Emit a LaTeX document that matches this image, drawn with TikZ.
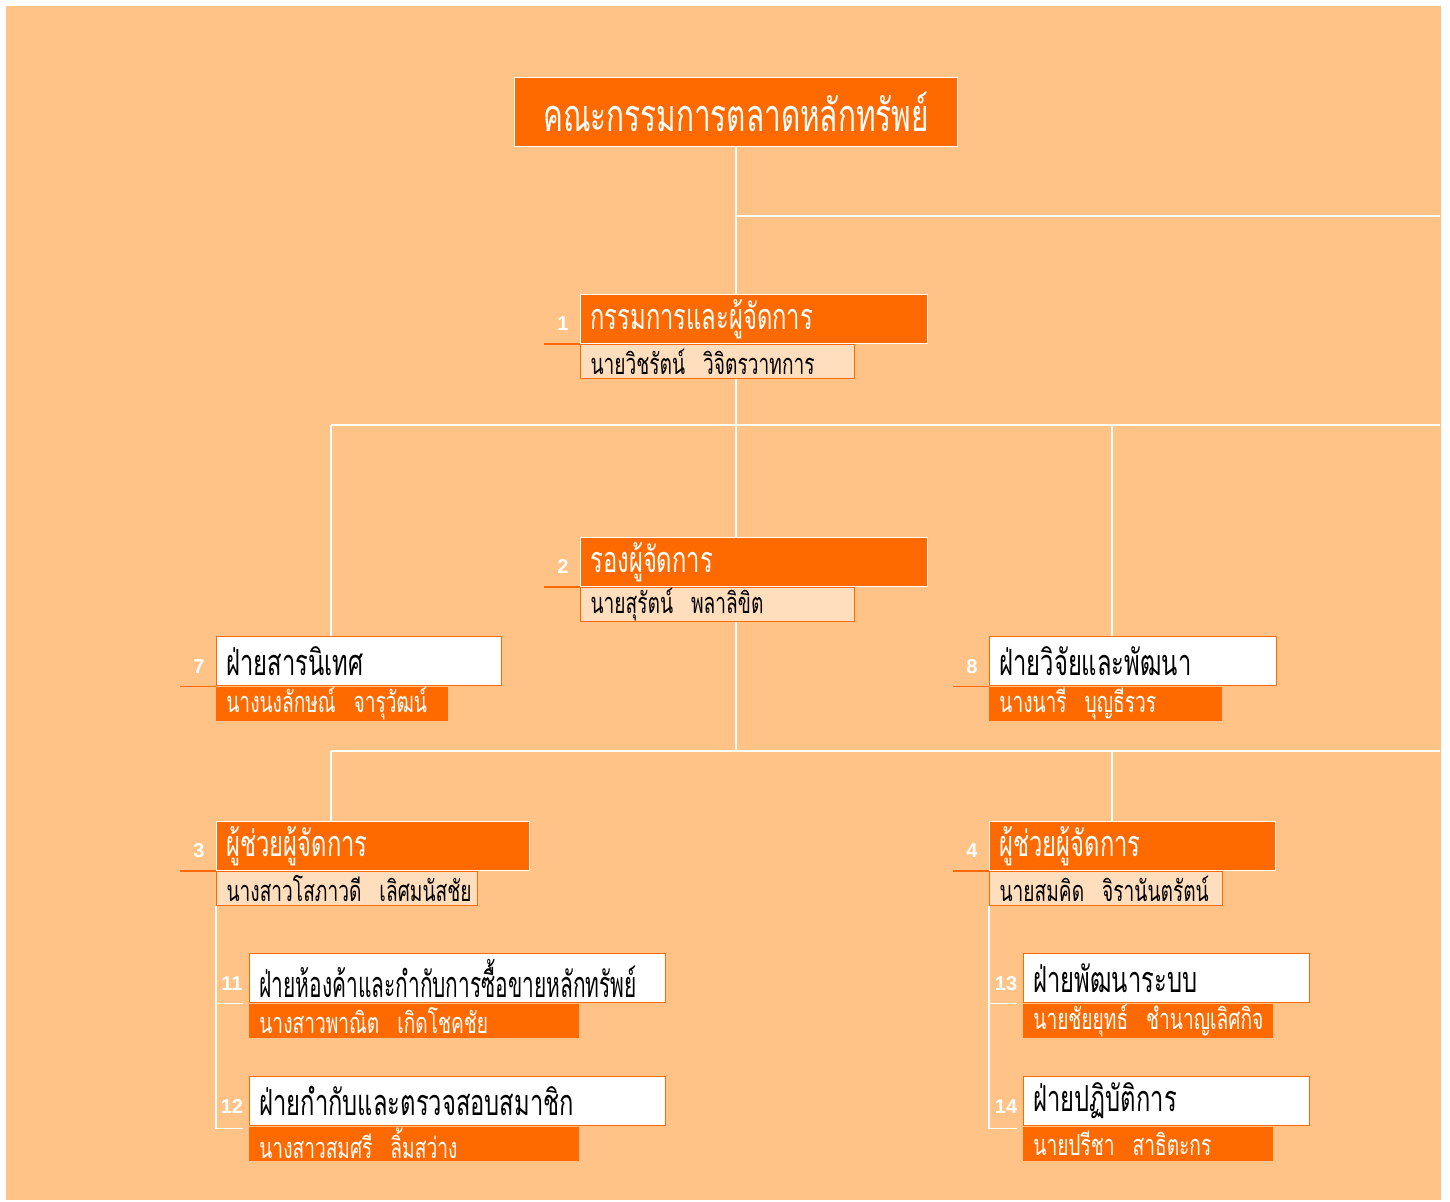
\documentclass[tikz,border=0pt]{standalone}
\usepackage{fontspec}
\setmainfont{Liberation Sans}
\newfontfamily\thaifont[Script=Thai,FakeStretch=0.66]{Loma}
\usetikzlibrary{calc}
\definecolor{peach}{HTML}{FFC387}
\definecolor{deeporange}{HTML}{FF6A00}
\definecolor{cream}{HTML}{FFDEBD}
\newcommand\namegap{\hspace{9pt}}
\pgfdeclarelayer{back}
\pgfdeclarelayer{wires}
\pgfsetlayers{back,wires,main}
\tikzset{
	box/.style={anchor=north west,inner xsep=5pt,inner ysep=0pt,align=left},
	headbox/.style={box,minimum height=24.5pt,fill=deeporange,draw=white,line width=0.5pt,text=white,font=\thaifont\fontsize{18}{20}\selectfont},
	plainbox/.style={box,minimum height=24.5pt,fill=white,draw=deeporange,line width=0.6pt,text=black,font=\thaifont\fontsize{18}{20}\selectfont},
	namebox/.style={box,minimum height=17pt,fill=cream,draw=deeporange,line width=0.6pt,text=black,font=\thaifont\fontsize{14.5}{16}\selectfont},
	staffbox/.style={box,minimum height=17pt,fill=deeporange,text=white,font=\thaifont\fontsize{14.5}{16}\selectfont},
	num/.style={text=white,font=\fontsize{10}{12}\selectfont\bfseries,inner sep=0pt},
	tick/.style={deeporange,line width=0.7pt},
	wire/.style={white,line width=0.6pt}
}
\begin{document}
\begin{tikzpicture}[x=0.5pt,y=-0.5pt]
	\useasboundingbox (0,0) rectangle (1450,1201);
	\begin{pgfonlayer}{back}
		\fill[white] (0,0) rectangle (1450,1201);
		\fill[peach] (6,6) rectangle (1441,1200);
	\end{pgfonlayer}
	\node (board) [headbox,text width=211.5pt,minimum height=34.5pt,align=center,font=\thaifont\fontsize{22.5}{25}\selectfont] at (514,77) {\mbox{คณะกรรมการตลาดหลักทรัพย์}};
	\foreach \n/\x/\y/\wa/\wb/\head/\who in {
		1/580/294/347/274/กรรมการและผู้จัดการ/นายวิชรัตน์\namegap วิจิตรวาทการ,
		2/580/537/347/274/รองผู้จัดการ/นายสุรัตน์\namegap พลาลิขิต,
		3/216/821/313/261/ผู้ช่วยผู้จัดการ/นางสาวโสภาวดี\namegap เลิศมนัสชัย,
		4/989/821/286/233/ผู้ช่วยผู้จัดการ/นายสมคิด\namegap จิรานันตรัตน์} {
		\pgfmathsetmacro\ta{\wa/2-10}
		\pgfmathsetmacro\tb{\wb/2-10}
		\node (t\n) [headbox,text width=\ta pt] at (\x,\y) {\mbox{\head}};
		\node (s\n) [namebox,text width=\tb pt] at (t\n.south west) {\mbox{\who}};
		\node (n\n) [num] at ($(t\n.south west)+(-17,-20)$) {\n};
	}
	\foreach \n/\x/\y/\wa/\wb/\head/\who in {
		7/216/636/285/232/ฝ่ายสารนิเทศ/นางนงลักษณ์\namegap จารุวัฒน์,
		8/989/636/287/233/ฝ่ายวิจัยและพัฒนา/นางนารี\namegap บุญธีรวร,
		11/249/953/416/330/{\scalebox{0.88}[1]{ฝ่ายห้องค้าและกำกับการซื้อขายหลักทรัพย์}}/นางสาวพาณิต\namegap เกิดโชคชัย,
		12/249/1076/416/330/ฝ่ายกำกับและตรวจสอบสมาชิก/นางสาวสมศรี\namegap ลิ้มสว่าง,
		13/1023/953/286/250/ฝ่ายพัฒนาระบบ/นายชัยยุทธ์\namegap ชำนาญเลิศกิจ,
		14/1023/1076/286/250/ฝ่ายปฏิบัติการ/นายปรีชา\namegap สาธิตะกร} {
		\pgfmathsetmacro\ta{\wa/2-10}
		\pgfmathsetmacro\tb{\wb/2-10}
		\node (t\n) [plainbox,text width=\ta pt] at (\x,\y) {\mbox{\head}};
		\node (s\n) [staffbox,text width=\tb pt] at (t\n.south west) {\mbox{\who}};
		\node (n\n) [num] at ($(t\n.south west)+(-17,-20)$) {\n};
	}
	\foreach \n in {1,2,3,4,7,8}
		\draw[tick] (t\n.south west) -- ++(-36,0);
	\coordinate (ra) at (1440,216);
	\coordinate (la) at (331,425);
	\coordinate (rb) at (1440,425);
	\coordinate (lc) at (331,751);
	\coordinate (rc) at (1440,751);
	\coordinate (xr) at (1112,0);
	\begin{pgfonlayer}{wires}
		\draw[wire] (board.south) -- (board.south |- lc);
		\draw[wire] (board.south |- ra) -- (ra);
		\draw[wire] (la) -- (rb);
		\draw[wire] (lc) -- (rc);
		\draw[wire] (la) -- (la |- t7.north);
		\draw[wire] (xr |- la) -- (xr |- t8.north);
		\draw[wire] (lc) -- (lc |- t3.north);
		\draw[wire] (xr |- lc) -- (xr |- t4.north);
		\draw[wire] (s3.south west) |- ($(t12.south west)+(-6,2)$);
		\draw[wire] (s3.south west |- t11.south) -- ($(t11.south west)+(-6,0)$);
		\draw[wire] (s4.south west) |- ($(t14.south west)+(-6,2)$);
		\draw[wire] (s4.south west |- t13.south) -- ($(t13.south west)+(-6,0)$);
	\end{pgfonlayer}
\end{tikzpicture}
\end{document}
